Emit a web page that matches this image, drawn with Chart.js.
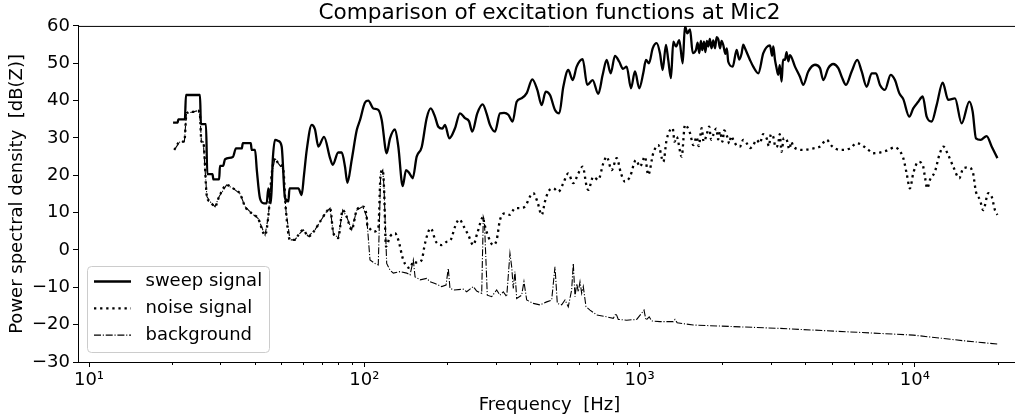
<!DOCTYPE html>
<html>
<head>
<meta charset="utf-8">
<script src="https://cdn.jsdelivr.net/npm/chart.js@4.4.0/dist/chart.umd.min.js"></script>
<style>
  html, body { margin: 0; padding: 0; background: #fff; overflow: hidden; }
  #wrap { width: 1030px; height: 419px; }
</style>
</head>
<body>
<div id="wrap"><canvas id="psd" width="1030" height="419"></canvas></div>
<script>
// Smoothed power spectral densities at Mic2, frequency in Hz and level in dB(Z)
const sweepFreq = [
  20.2, 21.0, 21.1, 22.3, 22.5, 25.3, 25.5, 26.6, 26.9, 28.1, 28.3, 29.7, 29.9, 30.7, 31.2, 33.3,
  34.2, 35.9, 36.2, 38.7, 39.0, 40.1, 40.7, 41.8, 43.2, 44.2, 44.8, 45.8, 46.5, 47.4, 48.7, 50.1,
  51.5, 53.0, 53.5, 57.6, 59.2, 60.4, 61.8, 64.4, 66.2, 68.1, 71.4, 75.1, 76.8, 80.4, 82.8, 85.1,
  86.8, 90.0, 93.9, 96.5, 100.6, 103.4, 107.8, 112.4, 115.7, 120.6, 124.0, 129.3, 132.9, 137.9,
  141.8, 146.0, 149.9, 155.0, 161.6, 168.5, 174.3, 180.6, 185.7, 192.0, 196.4, 203.6, 213.5,
  222.6, 232.2, 240.0, 246.8, 257.3, 269.2, 278.0, 286.1, 298.4, 311.1, 322.0, 333.6, 345.9,
  357.7, 372.9, 389.0, 407.7, 425.1, 441.0, 456.0, 472.7, 492.9, 510.9, 528.4, 550.8, 571.5,
  590.9, 621.3, 645.6, 675.4, 707.9, 734.5, 759.4, 785.2, 814.0, 843.9, 870.0, 897.8, 930.6,
  962.3, 997.5, 1031, 1055, 1082, 1116, 1154, 1186, 1213, 1247, 1271, 1300, 1326, 1356, 1394,
  1434, 1462, 1491, 1525, 1560, 1603, 1625, 1648, 1670, 1690, 1714, 1735, 1755, 1776, 1800,
  1825, 1852, 1880, 1905, 1932, 1960, 1985, 2014, 2050, 2075, 2100, 2179, 2253, 2300, 2349,
  2380, 2415, 2518, 2588, 2700, 2815, 2977, 3030, 3060, 3104, 3140, 3189, 3230, 3281, 3320,
  3373, 3420, 3470, 3518, 3669, 3825, 3932,
  4101, 4337, 4522, 4649, 4848, 5053, 5272, 5423, 5621, 5894, 6178, 6410, 6683, 6968, 7223,
  7470, 7789, 8168, 8467, 8777, 9077, 9545, 9867, 10290, 10680, 11040, 11510, 12000, 12620,
  13220, 13990, 14790, 15770, 16220, 16670, 17340, 18230, 19010, 19950
];
const sweepDb = [
  34.1, 34.1, 35.0, 35.0, 41.5, 41.5, 33.7, 33.7, 20.3, 20.3, 18.9, 18.9, 22.5, 22.5, 24.3, 24.9,
  27.2, 27.2, 28.6, 28.6, 26.8, 26.8, 21.4, 13.8, 12.5, 12.5, 16.5, 12.5, 24.1, 29.5, 29.2, 27.7,
  14.0, 13.0, 16.5, 16.5, 14.7, 20.1, 26.8, 33.5, 32.3, 27.7, 30.3, 24.6, 22.8, 26.1, 26.1, 22.3,
  18.0, 24.1, 32.1, 34.8, 39.5, 40.0, 37.9, 37.5, 34.8, 25.9, 29.9, 32.3, 27.7, 17.1,
  21.4, 20.5, 19.2, 25.0, 27.5, 35.3, 37.9, 35.7, 33.0, 32.5, 33.5, 29.9, 32.6,
  36.6, 35.3, 34.5, 31.7, 36.6, 39.0, 36.6, 33.5, 31.7, 36.6, 36.7, 36.2, 34.4,
  39.7, 40.6, 42.0, 45.7, 42.9, 38.8, 42.4, 41.5, 37.5, 36.6, 43.7, 48.2, 45.5,
  49.1, 51.1, 44.2, 45.5, 41.8, 46.9, 50.9, 47.3, 52.0, 50.4, 48.5, 49.1, 43.3,
  47.8, 43.3, 47.3, 50.9, 50.0, 54.0, 55.4, 52.7, 48.2, 54.9, 50.9, 46.0, 55.8, 54.5, 56.2,
  50.0, 60.0, 58.0, 59.1, 52.7, 53.6, 55.5, 52.7, 56.0, 53.5, 55.8, 53.0, 56.0, 54.5, 56.5,
  54.0, 56.1, 54.0, 57.0, 56.4, 54.0, 56.0, 54.9, 52.5, 54.0, 50.4, 49.1, 53.6, 51.0, 52.7,
  55.0, 54.0, 50.9, 49.1, 47.3, 52.7, 54.8, 52.0, 54.5, 50.9, 49.0, 46.9, 49.5, 45.1, 51.0,
  50.9, 53.0, 50.5, 52.2, 49.1, 46.4, 44.2,
  47.8, 49.6, 48.7, 45.5, 48.7, 49.8, 48.7, 46.4, 44.2, 47.8, 50.9, 47.8, 43.7, 47.3, 47.3,
  44.2, 42.9, 46.9, 45.5, 42.0, 40.4, 35.7, 37.9, 39.7, 41.1, 35.7, 34.4, 38.8, 44.8,
  40.2, 40.6, 33.9, 39.7, 37.0, 29.9, 29.5, 30.5, 27.7, 24.6
];

const noiseFreq = [
  20.4, 21.4, 22.2, 22.6, 23.9, 24.9, 25.3, 25.6, 26.0, 26.8, 27.5, 28.7, 29.7, 31.6, 33.4, 35.4,
  36.9, 39.0, 41.1, 43.6, 44.8, 46.1, 47.4, 48.7, 50.8, 51.9, 53.7, 56.0, 57.6, 60.0, 62.6, 66.2,
  69.1, 73.0, 75.1, 77.2, 80.4, 83.5, 86.3, 90.0, 93.9, 98.7, 102.0, 102.5, 104.3, 107.8, 112.4,
  114.7, 116.7, 117.9, 119.9, 124.0, 129.3, 132.9, 138.6, 146.6, 150.7, 155.0, 161.6, 166.2,
  174.3, 182.1, 191.0, 199.2, 206.0, 213.5, 221.3, 230.2, 238.7, 248.9, 257.3, 270.6, 272.2,
  282.1, 294.2, 302.6, 311.1, 324.4, 338.2, 352.7, 367.8, 383.4, 399.9, 411.1, 425.1, 441.0,
  453.4, 466.1, 486.0, 506.8, 528.4, 550.8, 574.4, 599.0, 621.3, 642.5, 651.0, 678.9, 707.9,
  738.3, 759.4, 791.9, 825.8, 855.9, 885.1, 922.8, 970.3, 1003, 1046, 1075, 1121, 1169, 1220,
  1254, 1319, 1340, 1364, 1422, 1462, 1525, 1567, 1612, 1640, 1681, 1710, 1752, 1790, 1820,
  1852, 1900, 1930, 1960, 2000, 2030, 2072, 2120, 2150, 2190, 2250, 2316, 2380, 2449, 2520,
  2588, 2660, 2737, 2810, 2895, 2950, 3000, 3060, 3120, 3189, 3230, 3281, 3340, 3423, 3500,
  3560, 3617, 3932, 4276, 4522, 4781, 4985, 5346,
  5812, 6146, 6683, 7062, 7470, 7900, 8467, 8704, 9077, 9338, 9598, 9867, 10290, 10680, 10880,
  11090, 11350, 11830, 12270, 12690, 13220, 13790, 14500, 14990, 15630, 16220, 16670, 17240,
  17720, 18480, 19010, 19540, 19950
];
const noiseDb = [
  26.8, 29.0, 29.0, 36.6, 37.0, 37.3, 36.0, 29.0, 29.0, 14.3, 13.0, 11.6, 14.3, 17.4, 16.5, 15.0,
  11.6, 9.8, 8.5, 4.0, 8.9, 20.4, 24.6, 23.2, 21.4, 10.7, 2.7, 2.7, 4.0, 5.4, 3.6, 5.4,
  7.6, 10.3, 11.2, 4.5, 3.2, 10.7, 8.9, 5.4, 10.7, 11.6, 8.9, 6.7, 5.8, 4.9, 5.8,
  20.5, 21.4, 17.0, 0.9, 3.6, 4.5, 2.7, -2.7, -4.9, -3.1, -3.4, -2.7, 1.8,
  5.8, 2.2, 1.3, 2.2, 2.7, 6.2, 8.2, 6.2, 4.0, 1.3, 4.5, 8.9, 7.6,
  3.6, 1.3, 2.7, 8.0, 9.8, 9.4, 11.2, 11.2, 11.6, 14.3, 15.2, 13.0, 9.4,
  13.0, 15.6, 16.5, 15.6, 17.9, 20.5, 17.9, 20.5, 22.3, 17.0, 16.1, 19.6, 18.8,
  23.2, 25.0, 21.4, 24.6, 20.5, 18.3, 19.6, 24.1, 22.3, 25.0, 20.1, 25.9, 28.1, 23.6,
  29.5, 32.6, 29.0, 30.3, 25.0, 33.5, 31.3, 28.1, 30.3, 27.8, 32.6, 29.0, 30.8, 33.0, 29.5,
  30.8, 32.5, 29.6, 31.7, 29.0, 32.0, 30.8, 28.5, 30.5, 29.5, 28.0, 27.7, 29.5, 28.6, 27.3,
  28.1, 29.5, 28.6, 31.0, 29.9, 27.8, 31.0, 30.3, 27.5, 28.5, 31.0, 26.3, 30.0, 29.5, 27.0,
  29.0, 27.7, 26.8, 27.2, 27.7, 29.5, 27.9, 26.8,
  27.2, 28.6, 27.2, 25.9, 26.1, 26.6, 27.5, 27.0, 24.6, 20.5, 16.5, 20.5, 23.6, 22.8, 19.6,
  16.5, 18.8, 21.0, 25.4, 27.7, 25.4, 22.3, 19.2, 21.9, 22.1, 21.0, 15.6, 13.4,
  10.7, 15.2, 14.3, 10.7, 9.4
];

const backgroundFreq = [
  20.4, 21.4, 22.2, 22.6, 23.9, 24.9, 25.3, 25.6, 26.0, 26.8, 27.5, 28.7, 29.7, 31.6, 33.4, 35.4,
  36.9, 39.0, 41.1, 43.6, 44.8, 46.1, 47.4, 48.7, 50.8, 51.9, 53.7, 56.0, 57.6, 60.0, 62.6, 66.2,
  69.1, 73.0, 75.1, 77.2, 80.4, 83.5, 86.3, 90.0, 93.9, 98.7, 102.0, 104.9, 109.4, 112.4, 114.7,
  116.7, 117.9, 120.6, 124.0, 127.5, 134.8, 142.6, 146.6, 150.7, 152.9, 159.4, 168.5, 173.3,
  180.6, 191.0, 198.1, 201.9, 204.8, 212.2, 228.8, 235.5, 248.9, 256.0, 267.0, 270.6, 273.0,
  279.8, 290.3, 302.6, 311.1, 319.8, 329.1, 338.2, 343.1, 347.8, 352.7, 357.7, 372.9, 380.2,
  389.0, 411.1, 434.6, 459.8, 479.4, 492.9, 502.5, 521.2, 535.8, 550.8, 566.6, 574.4, 582.7,
  590.9, 599.0, 607.6, 616.2, 624.5, 638.8, 660.6, 698.6, 759.4, 802.6, 821.0, 837.0, 897.8,
  976.1, 1038, 1055, 1084, 1107, 1186, 1326, 1345, 1370, 1567, 3236, 5655, 9867, 14990, 19950
];
const backgroundDb = [
  26.8, 29.0, 29.0, 36.6, 37.0, 37.3, 36.0, 29.0, 29.0, 14.3, 13.0, 11.6, 14.3, 17.4, 16.5, 15.0,
  11.6, 9.8, 8.5, 4.0, 8.9, 20.4, 24.6, 23.2, 21.4, 10.7, 2.7, 2.7, 4.0, 5.4, 3.6, 5.4,
  7.6, 10.3, 11.2, 4.5, 3.2, 10.7, 8.9, 5.4, 10.7, 11.6, 8.9, -2.7, -3.6, -4.0, 20.5,
  21.4, 17.0, -3.6, -5.4, -6.2, -5.8, -6.2, -6.7, -2.7, -7.2, -8.0, -7.6, -8.5,
  -9.0, -9.8, -9.4, -4.9, -10.3, -10.7, -10.5, -11.2, -9.8, -11.0, -11.6, 8.9, 8.0,
  -12.1, -12.5, -10.7, -12.1, -11.2, -12.5, -0.9, -4.5, -10.3, -5.8, -13.0, -12.1, -8.5,
  -13.4, -14.3, -14.7, -13.9, -13.4, -4.5, -14.3, -14.7, -13.4, -15.2, -10.7, -3.6, -12.5,
  -9.0, -11.2, -8.5, -11.6, -9.8, -15.2, -16.1, -17.4, -17.9, -18.3, -17.0, -18.6, -18.8,
  -18.6, -16.1, -18.8, -17.9, -19.0, -19.2, -19.2, -18.6, -19.5, -20.1, -21.0, -21.9, -22.8, -24.3, -25.2
];

// Axis ticks
const xTickValues = [10, 100, 1000, 10000];
const xTickLabels = ['10\u00B9', '10\u00B2', '10\u00B3', '10\u2074'];
const yTickValues = [-30, -20, -10, 0, 10, 20, 30, 40, 50, 60];

const FONT = 'DejaVu Sans';

function toPoints(freqs, levels) {
  return freqs.map((f, i) => ({ x: f, y: levels[i] }));
}

// Top/right spines, minor log ticks and the in-plot legend
const axisDetails = {
  id: 'axisDetails',
  afterDraw(chart) {
    const { ctx, chartArea } = chart;
    const { left, right, top, bottom } = chartArea;
    const xs = chart.scales.x;
    ctx.save();
    ctx.strokeStyle = '#000';
    ctx.lineWidth = 1;
    ctx.beginPath();
    ctx.moveTo(left, top + 0.5);
    ctx.lineTo(right, top + 0.5);
    ctx.moveTo(right - 0.5, top);
    ctx.lineTo(right - 0.5, bottom);
    ctx.stroke();

    ctx.beginPath();
    for (let e = 0; e <= 4; e++) {
      for (let m = 2; m <= 9; m++) {
        const v = m * Math.pow(10, e);
        if (v < xs.min || v > xs.max) continue;
        const px = Math.round(xs.getPixelForValue(v)) + 0.5;
        ctx.moveTo(px, bottom);
        ctx.lineTo(px, bottom + 3);
      }
    }
    ctx.stroke();

    // legend
    const bx = left + 9.5, by = bottom - 95.5, bw = 182, bh = 86, r = 4;
    ctx.beginPath();
    ctx.moveTo(bx + r, by);
    ctx.arcTo(bx + bw, by, bx + bw, by + bh, r);
    ctx.arcTo(bx + bw, by + bh, bx, by + bh, r);
    ctx.arcTo(bx, by + bh, bx, by, r);
    ctx.arcTo(bx, by, bx + bw, by, r);
    ctx.closePath();
    ctx.fillStyle = 'rgba(255,255,255,0.8)';
    ctx.fill();
    ctx.strokeStyle = '#cccccc';
    ctx.lineWidth = 1;
    ctx.stroke();

    ctx.font = '18px "' + FONT + '"';
    ctx.textBaseline = 'middle';
    ctx.textAlign = 'left';
    chart.data.datasets.forEach((ds, i) => {
      const yy = bottom - 80.5 + i * 26.8;
      ctx.beginPath();
      ctx.setLineDash(ds.borderDash || []);
      ctx.lineWidth = ds.borderWidth;
      ctx.strokeStyle = ds.borderColor;
      ctx.moveTo(left + 16, yy);
      ctx.lineTo(left + 53, yy);
      ctx.stroke();
      ctx.setLineDash([]);
      ctx.fillStyle = '#000';
      ctx.fillText(ds.label, left + 67.5, yy);
    });
    ctx.restore();
  }
};

const ctx = document.getElementById('psd').getContext('2d');
new Chart(ctx, {
  type: 'line',
  data: {
    datasets: [
      {
        label: 'sweep signal',
        data: toPoints(sweepFreq, sweepDb),
        borderColor: '#000',
        borderWidth: 2.3,
        pointRadius: 0,
        cubicInterpolationMode: 'monotone',
        fill: false
      },
      {
        label: 'noise signal',
        data: toPoints(noiseFreq, noiseDb),
        borderColor: '#000',
        borderWidth: 2.3,
        borderDash: [2.3, 3.8],
        pointRadius: 0,
        cubicInterpolationMode: 'monotone',
        fill: false
      },
      {
        label: 'background',
        data: toPoints(backgroundFreq, backgroundDb),
        borderColor: '#000',
        borderWidth: 1.1,
        borderDash: [7, 1.8, 1.1, 1.8],
        pointRadius: 0,
        tension: 0,
        fill: false
      }
    ]
  },
  options: {
    responsive: false,
    animation: false,
    devicePixelRatio: 1,
    layout: { padding: { left: 0, right: 9, top: 0, bottom: 0 } },
    plugins: {
      legend: { display: false },
      tooltip: { enabled: false },
      title: {
        display: true,
        text: 'Comparison of excitation functions at Mic2',
        fullSize: false,
        color: '#000',
        font: { family: FONT, size: 21.6, weight: 'normal', lineHeight: 1.2 },
        padding: { top: 0, bottom: 0 }
      }
    },
    scales: {
      x: {
        type: 'logarithmic',
        min: 9.12,
        max: 24300,
        afterBuildTicks: (scale) => { scale.ticks = xTickValues.map(v => ({ value: v })); },
        afterFit: (scale) => { scale.height = 57; },
        ticks: {
          autoSkip: false,
          maxRotation: 0,
          padding: 3,
          color: '#000',
          font: { family: FONT, size: 18 },
          callback: (v) => { const i = xTickValues.indexOf(v); return i >= 0 ? xTickLabels[i] : ''; }
        },
        grid: { drawOnChartArea: false, drawTicks: true, tickLength: 5, tickColor: '#000', tickWidth: 1 },
        border: { display: true, color: '#000', width: 1 },
        title: {
          display: true,
          text: 'Frequency  [Hz]',
          color: '#000',
          font: { family: FONT, size: 18, lineHeight: 1.2 },
          padding: { top: 0, bottom: 3 }
        }
      },
      y: {
        type: 'linear',
        min: -30,
        max: 60,
        afterBuildTicks: (scale) => { scale.ticks = yTickValues.map(v => ({ value: v })); },
        afterFit: (scale) => { scale.width = 78; },
        ticks: {
          padding: 3,
          color: '#000',
          font: { family: FONT, size: 18 },
          callback: (v) => (v < 0 ? '\u2212' + Math.abs(v) : String(v))
        },
        grid: { drawOnChartArea: false, drawTicks: true, tickLength: 5, tickColor: '#000', tickWidth: 1 },
        border: { display: true, color: '#000', width: 1 },
        title: {
          display: true,
          text: 'Power spectral density  [dB(Z)]',
          color: '#000',
          font: { family: FONT, size: 18, lineHeight: 1.2 },
          padding: { top: 7, bottom: 0 }
        }
      }
    }
  },
  plugins: [axisDetails]
});
</script>
</body>
</html>
